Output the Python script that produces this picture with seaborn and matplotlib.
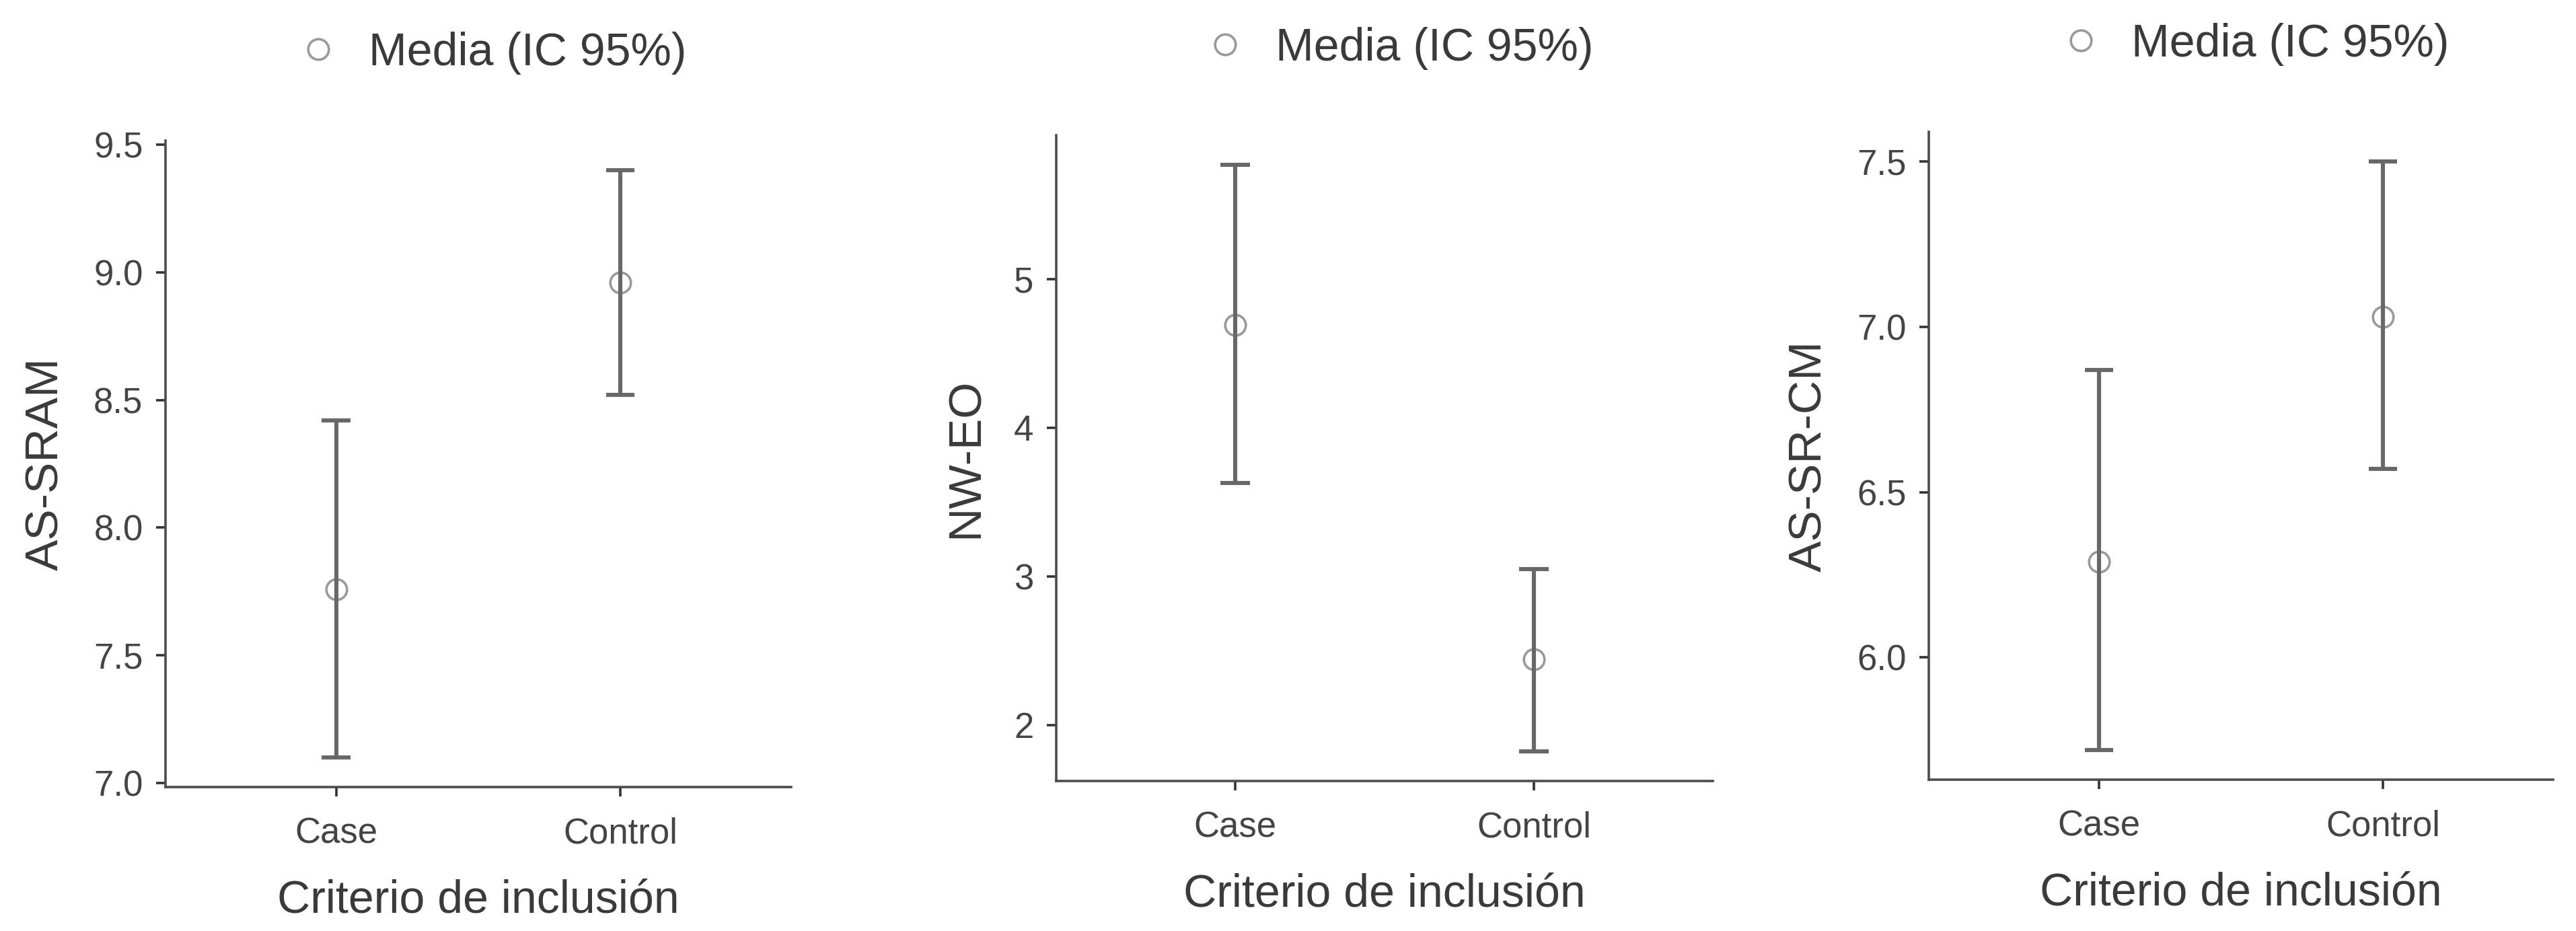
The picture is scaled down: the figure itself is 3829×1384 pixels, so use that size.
import numpy as np
import pandas as pd
import seaborn as sns
import matplotlib.pyplot as plt

grupos = ['Case', 'Control']

# AS-SRAM
sram_media = [7.76, 8.96]
sram_ic_inf = [7.10, 8.52]
sram_ic_sup = [8.42, 9.40]
sram_ticks = [7.0, 7.5, 8.0, 8.5, 9.0, 9.5]

# NW-EO
nweo_media = [4.69, 2.44]
nweo_ic_inf = [3.63, 1.82]
nweo_ic_sup = [5.77, 3.05]
nweo_ticks = [2, 3, 4, 5]

# AS-SR-CM
srcm_media = [6.29, 7.03]
srcm_ic_inf = [5.72, 6.57]
srcm_ic_sup = [6.87, 7.50]
srcm_ticks = [6.0, 6.5, 7.0, 7.5]

paineis = [
    ('AS-SRAM', sram_media, sram_ic_inf, sram_ic_sup, sram_ticks, '{:.1f}'),
    ('NW-EO', nweo_media, nweo_ic_inf, nweo_ic_sup, nweo_ticks, '{:.0f}'),
    ('AS-SR-CM', srcm_media, srcm_ic_inf, srcm_ic_sup, srcm_ticks, '{:.1f}'),
]

# posicoes dos eixos (fracao da figura)
posicoes = [
    [0.0642, 0.1546, 0.2428, 0.6944],
    [0.4098, 0.1611, 0.2550, 0.6936],
    [0.7486, 0.1626, 0.2423, 0.6958],
]

sns.set_style('ticks')
plt.rcParams['font.family'] = ['Liberation Sans', 'DejaVu Sans']

cor_barra = '#686868'
cor_marcador = '#999999'
cor_texto = '#3a3a3a'

fig = plt.figure(figsize=(38.3, 13.84), dpi=100)

for (nome, media, ic_inf, ic_sup, ticks, fmt), pos in zip(paineis, posicoes):
    ax = fig.add_axes(pos)

    # cada grupo leva [inferior, media, superior]: mediana = media, min/max = IC
    df = pd.DataFrame({
        'grupo': np.repeat(grupos, 3),
        'valor': [v for i in range(len(grupos)) for v in (ic_inf[i], media[i], ic_sup[i])],
    })

    sns.pointplot(data=df, x='grupo', y='valor', order=grupos,
                  estimator='median', errorbar=lambda v: (v.min(), v.max()),
                  capsize=0.1, linestyle='none', marker='o',
                  color=cor_marcador, markerfacecolor='white',
                  markeredgecolor=cor_marcador, markersize=22,
                  markeredgewidth=2.6, zorder=3, label='Media (IC 95%)',
                  err_kws={'color': cor_barra, 'linewidth': 4.4,
                           'linestyle': '-', 'solid_capstyle': 'butt'},
                  ax=ax)

    ax.set_xlim(-0.6, 1.6)
    ax.set_yticks(ticks)
    ax.set_yticklabels([fmt.format(t) for t in ticks])

    sns.despine(ax=ax)
    for lado in ['left', 'bottom']:
        ax.spines[lado].set_color('#4d4d4d')
        ax.spines[lado].set_linewidth(2.6)
    ax.tick_params(axis='both', length=10, width=2.6, color='#333333',
                   labelsize=38, labelcolor='#444444')
    ax.tick_params(axis='x', pad=22)
    ax.tick_params(axis='y', pad=14)

    ax.set_xlabel('Criterio de inclusión', fontsize=49, color=cor_texto, labelpad=30)
    ax.set_ylabel(nome, fontsize=50, color=cor_texto, labelpad=28)

    ax.legend(loc='center', bbox_to_anchor=(0.52, 1.135), frameon=False,
              fontsize=49, handlelength=1.0, handletextpad=0.6,
              labelcolor=cor_texto)

plt.savefig('out.png', dpi=100)
